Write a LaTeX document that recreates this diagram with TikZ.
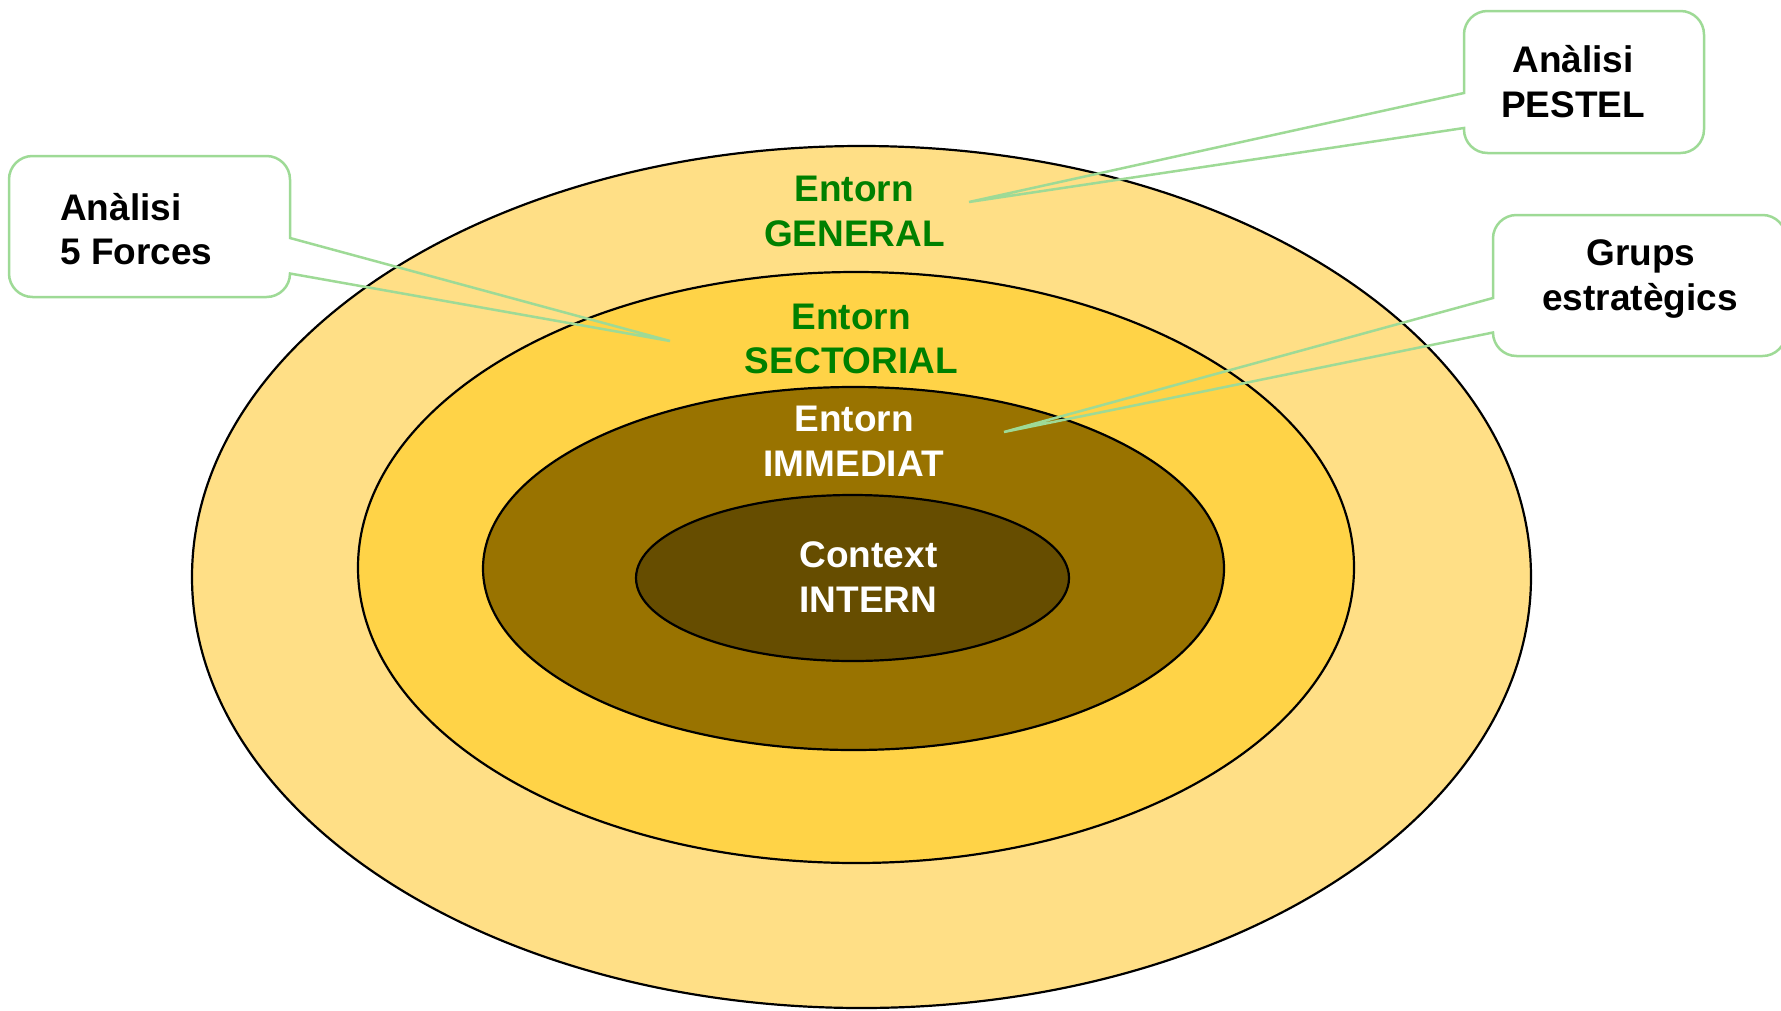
\documentclass[tikz,border=0pt]{standalone}
\usepackage{fontspec}
\setmainfont{Liberation Sans}
\usetikzlibrary{shapes.geometric}

\definecolor{ringgeneral}{RGB}{255,223,134}
\definecolor{ringsector}{RGB}{255,211,71}
\definecolor{ringimmediate}{RGB}{153,115,0}
\definecolor{ringintern}{RGB}{102,77,0}
\definecolor{labelgreen}{RGB}{0,128,0}
\definecolor{calloutgreen}{RGB}{158,218,150}

\begin{document}
\begin{tikzpicture}[x=1pt,y=-1pt,
  ring/.style={ellipse, draw=black, line width=2.2pt, inner sep=0pt, outer sep=0pt},
  lbl/.style={anchor=base, font=\fontsize{37}{45}\selectfont\bfseries, inner sep=0pt},
  calloutline/.style={draw=calloutgreen, line width=2.5pt, line join=miter}]

\useasboundingbox (0,0) rectangle (1781,1010);

% nested environment rings
\node[ring, fill=ringgeneral,   minimum width=1339pt, minimum height=862pt] (general)   at (861.5,577) {};
\node[ring, fill=ringsector,    minimum width=996pt,  minimum height=591pt] (sectorial) at (856,567.5) {};
\node[ring, fill=ringimmediate, minimum width=741pt,  minimum height=363pt] (immediate) at (853.5,568.5) {};
\node[ring, fill=ringintern,    minimum width=433pt,  minimum height=166pt] (intern)    at (852.5,578) {};

% ring labels
\node[lbl, text=labelgreen] (gen1) at (854,201) {Entorn};
\node[lbl, text=labelgreen] (gen2) at (854.5,246) {GENERAL};
\node[lbl, text=labelgreen] (sec1) at (851,329) {Entorn};
\node[lbl, text=labelgreen] (sec2) at (851.5,373) {SECTORIAL};
\node[lbl, text=white] (imm1) at (854,431) {Entorn};
\node[lbl, text=white] (imm2) at (853.5,476) {IMMEDIAT};
\node[lbl, text=white] (int1) at (868.5,567) {Context};
\node[lbl, text=white] (int2) at (868.5,612) {INTERN};

% callout texts
\node[lbl, anchor=base west] (forces1) at (60,220) {Anàlisi};
\node[lbl, anchor=base west] (forces2) at (60,264) {5 Forces};
\node[lbl] (pestel1) at (1573,72) {Anàlisi};
\node[lbl] (pestel2) at (1573,117) {PESTEL};
\node[lbl] (grups1) at (1641,265) {Grups};
\node[lbl] (grups2) at (1640,310) {estratègics};

% callout pointer tips
\coordinate (forcestip) at (670,341);
\coordinate (pesteltip) at (969,202);
\coordinate (grupstip)  at (1004,432);

% callout: 5 Forces (pointer on the right edge)
\draw[calloutline] (290,238) -- (forcestip) -- (290,273.5)
  .. controls (290,286.5) and (279.5,297) .. (266.5,297) -- (32.5,297)
  .. controls (19.5,297) and (9,286.5) .. (9,273.5) -- (9,179.5)
  .. controls (9,166.5) and (19.5,156) .. (32.5,156) -- (266.5,156)
  .. controls (279.5,156) and (290,166.5) .. (290,179.5) -- cycle;

% callout: PESTEL (pointer on the left edge)
\draw[calloutline] (1464,93) -- (pesteltip) -- (1464,128) -- (1464,129.5)
  .. controls (1464,142.5) and (1474.5,153) .. (1487.5,153) -- (1680.5,153)
  .. controls (1693.5,153) and (1704,142.5) .. (1704,129.5) -- (1704,34.5)
  .. controls (1704,21.5) and (1693.5,11) .. (1680.5,11) -- (1487.5,11)
  .. controls (1474.5,11) and (1464,21.5) .. (1464,34.5) -- cycle;

% callout: Grups estrategics (pointer on the left edge, runs off the right side)
\draw[calloutline] (1493,298) -- (grupstip) -- (1493,332.5)
  .. controls (1493,345.5) and (1503.5,356) .. (1516.5,356) -- (1762.5,356)
  .. controls (1775.5,356) and (1786,345.5) .. (1786,332.5) -- (1786,238.5)
  .. controls (1786,225.5) and (1775.5,215) .. (1762.5,215) -- (1516.5,215)
  .. controls (1503.5,215) and (1493,225.5) .. (1493,238.5) -- cycle;

\end{tikzpicture}
\end{document}
